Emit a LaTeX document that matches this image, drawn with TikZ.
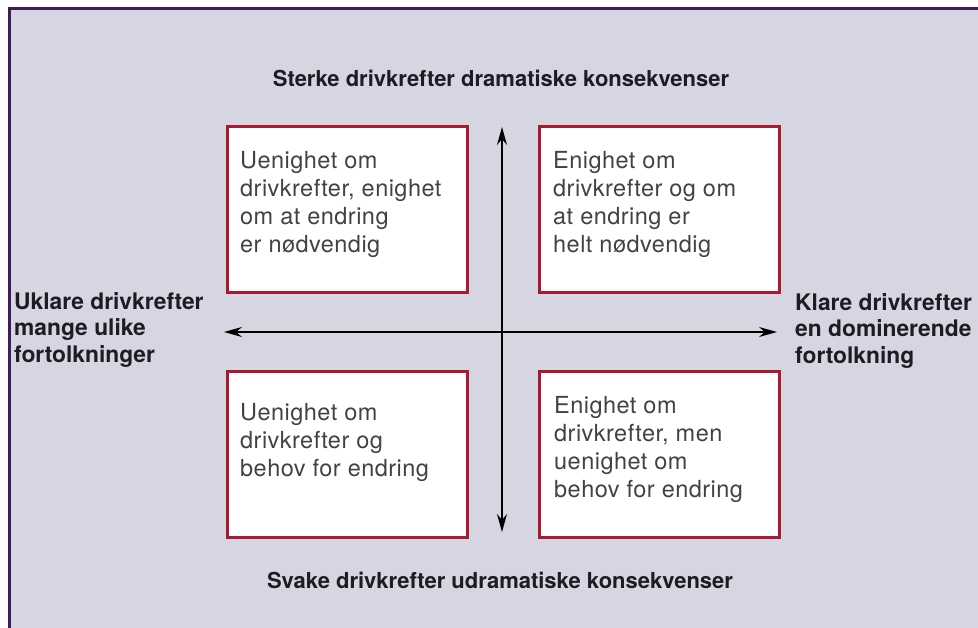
\documentclass[tikz,border=0pt]{standalone}
\usepackage{fontspec}
\setmainfont{TeX Gyre Heros}
\newfontfamily\quadfont[LetterSpace=2]{TeX Gyre Heros}
\usetikzlibrary{arrows.meta}
\definecolor{bgc}{RGB}{214,213,226}
\definecolor{framec}{RGB}{62,28,84}
\definecolor{boxc}{RGB}{170,26,46}
\definecolor{txtc}{RGB}{66,66,66}
\definecolor{lblc}{RGB}{28,28,34}
\tikzset{
  quad/.style={draw=boxc, line width=3pt, fill=white, minimum width=240pt, minimum height=166pt, anchor=north west, inner sep=0pt},
  boxtext/.style={text=txtc, font=\quadfont\fontsize{23.5}{28.2}\selectfont, align=left, anchor=north west, inner sep=0pt},
  lbl/.style={text=lblc, font=\bfseries\fontsize{22.8}{26.8}\selectfont, align=left, anchor=north west, inner sep=0pt},
  ttl/.style={text=lblc, font=\bfseries\fontsize{22}{26}\selectfont, inner sep=0pt},
  axis/.style={line width=1.5pt, {Stealth[length=18pt,width=10pt]}-{Stealth[length=18pt,width=10pt]}}
}
\begin{document}
\begin{tikzpicture}[x=1pt,y=-1pt]
\useasboundingbox (0,0) rectangle (978,628);
\fill[white] (0,0) rectangle (978,628);
\fill[bgc] (9,9) rectangle (978,628);
\draw[framec, line width=3pt] (9,628) -- (9,9) -- (978,9);
% boxes
\node[quad] (tl) at (226,125) {};
\node[quad] (tr) at (538,125) {};
\node[quad] (bl) at (226,370) {};
\node[quad] (br) at (538,370) {};
% box texts
\node[boxtext] (tlt) at ([shift={(14,26)}]tl.north west) {Uenighet om\\drivkrefter, enighet\\om at endring\\er nødvendig};
\node[boxtext] (trt) at ([shift={(15,26)}]tr.north west) {Enighet om\\drivkrefter og om\\at endring er\\helt nødvendig};
\node[boxtext] (blt) at ([shift={(14,33)}]bl.north west) {Uenighet om\\drivkrefter og\\behov for endring};
\node[boxtext] (brt) at ([shift={(16,26)}]br.north west) {Enighet om\\drivkrefter, men\\uenighet om\\behov for endring};
% axes
\coordinate (xl) at (224,332);
\coordinate (xr) at (777,332);
\coordinate (yt) at (502,127);
\coordinate (yb) at (502,532);
\draw[axis] (xl) -- (xr);
\draw[axis] (yb) -- (yt);
% labels
\node[ttl] (top) at (501,78) {Sterke drivkrefter dramatiske konsekvenser};
\node[ttl] (bot) at (500,580) {Svake drivkrefter udramatiske konsekvenser};
\node[lbl] (left) at (14,292) {Uklare drivkrefter\\mange ulike\\fortolkninger};
\node[lbl] (right) at (795,293) {Klare drivkrefter\\en dominerende\\fortolkning};
\end{tikzpicture}
\end{document}
